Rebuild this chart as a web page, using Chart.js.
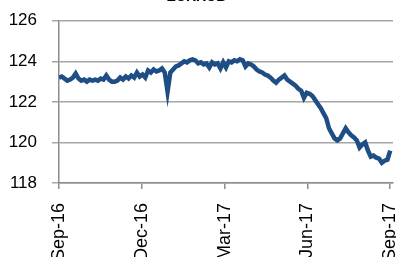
<!DOCTYPE html>
<html>

<head>
    <title>EURRUB</title>
    <style>
        html, body {
            margin: 0;
            padding: 0;
            background: #ffffff;
            overflow: hidden;
        }

        #frame {
            position: relative;
            width: 396px;
            height: 257px;
            overflow: hidden;
        }

        #holder {
            position: absolute;
            left: 0;
            top: -13px;
            width: 396px;
            height: 270px;
        }
    </style>
    <script src="https://cdn.jsdelivr.net/npm/chart.js"></script>
</head>

<body>
    <div id="frame">
        <div id="holder">
            <canvas id="rateChart"></canvas>
        </div>
    </div>

    <script>
        var chartTitle = 'EURRUB';
        var tickLabels = ['Sep-16', 'Dec-16', 'Mar-17', 'Jun-17', 'Sep-17'];
        var tickPositions = [0, 29.75, 59.5, 89.25, 119];
        var yTicks = [118, 120, 122, 124, 126];
        // roughly every two trading days, Sep-16 .. Sep-17
        var rates = [
            123.2, 123.25, 123.15, 123.05, 123.1, 123.2, 123.4, 123.15, 123.05, 123.1,
            123.0, 123.1, 123.05, 123.1, 123.05, 123.15, 123.1, 123.3, 123.1, 123.0,
            123.0, 123.05, 123.2, 123.1, 123.25, 123.15, 123.3, 123.2, 123.45, 123.25,
            123.35, 123.2, 123.55, 123.45, 123.6, 123.5, 123.55, 123.65, 123.45, 122.5,
            123.45, 123.6, 123.75, 123.8, 123.9, 124.0, 123.95, 124.05, 124.1, 124.05,
            123.9, 123.95, 123.85, 123.9, 123.7, 123.95, 123.85, 123.9, 123.65, 123.95,
            123.7, 124.0, 123.95, 124.05, 124.0, 124.1, 124.05, 123.75, 123.9, 123.85,
            123.75, 123.6, 123.5, 123.45, 123.35, 123.3, 123.2, 123.05, 122.95, 123.1,
            123.2, 123.3, 123.1, 123.0, 122.9, 122.8, 122.65, 122.55, 122.2, 122.45,
            122.4, 122.3, 122.1, 121.9, 121.7, 121.45, 121.2, 120.7, 120.45, 120.2,
            120.1, 120.2, 120.45, 120.7, 120.5, 120.35, 120.25, 120.1, 119.75, 119.9,
            120.0, 119.6, 119.3, 119.35, 119.25, 119.2, 119.0, 119.1, 119.15, 119.6
        ];

        var points = rates.map(function (v, i) {
            return { x: i, y: v };
        });

        var ctx = document.getElementById('rateChart').getContext('2d');
        var rateChart = new Chart(ctx, {
            type: 'line',
            data: {
                datasets: [{
                    label: chartTitle,
                    data: points,
                    borderColor: '#1f4e85',
                    borderWidth: 4.5,
                    pointRadius: 0,
                    tension: 0,
                    fill: false
                }]
            },
            options: {
                responsive: true,
                maintainAspectRatio: false,
                animation: false,
                layout: {
                    padding: { left: 0, right: 3, top: 0, bottom: 0 }
                },
                plugins: {
                    legend: { display: false },
                    tooltip: { enabled: false },
                    title: {
                        display: true,
                        text: chartTitle,
                        color: '#000000',
                        font: { family: 'Liberation Sans, Arial', size: 14, weight: 'bold' },
                        padding: { top: 2, bottom: 15 }
                    }
                },
                scales: {
                    x: {
                        type: 'linear',
                        min: 0,
                        max: 120,
                        afterBuildTicks: function (scale) {
                            scale.ticks = tickPositions.map(function (p) {
                                return { value: p };
                            });
                        },
                        afterFit: function (scale) {
                            // labels run off the edges in the original
                            scale.paddingLeft = 0;
                            scale.paddingRight = 0;
                            scale.height = 74;
                        },
                        ticks: {
                            autoSkip: false,
                            minRotation: 90,
                            maxRotation: 90,
                            padding: 14,
                            color: '#000000',
                            font: { family: 'Liberation Sans, Arial', size: 18 },
                            callback: function (value, index) {
                                return tickLabels[index];
                            }
                        },
                        grid: {
                            drawOnChartArea: false,
                            color: '#8c8c8c',
                            tickLength: 6,
                            lineWidth: 1.5
                        },
                        border: { color: '#8c8c8c', width: 1.5 }
                    },
                    y: {
                        min: 118,
                        max: 126,
                        afterBuildTicks: function (scale) {
                            scale.ticks = yTicks.map(function (v) {
                                return { value: v };
                            });
                        },
                        afterFit: function (scale) {
                            scale.width = 59;
                        },
                        ticks: {
                            padding: 15,
                            color: '#000000',
                            font: { family: 'Liberation Sans, Arial', size: 17 }
                        },
                        grid: {
                            color: '#a6a6a6',
                            lineWidth: 1.5,
                            tickLength: 7
                        },
                        border: { color: '#8c8c8c', width: 1.5 }
                    }
                }
            }
        });
    </script>
</body>

</html>
